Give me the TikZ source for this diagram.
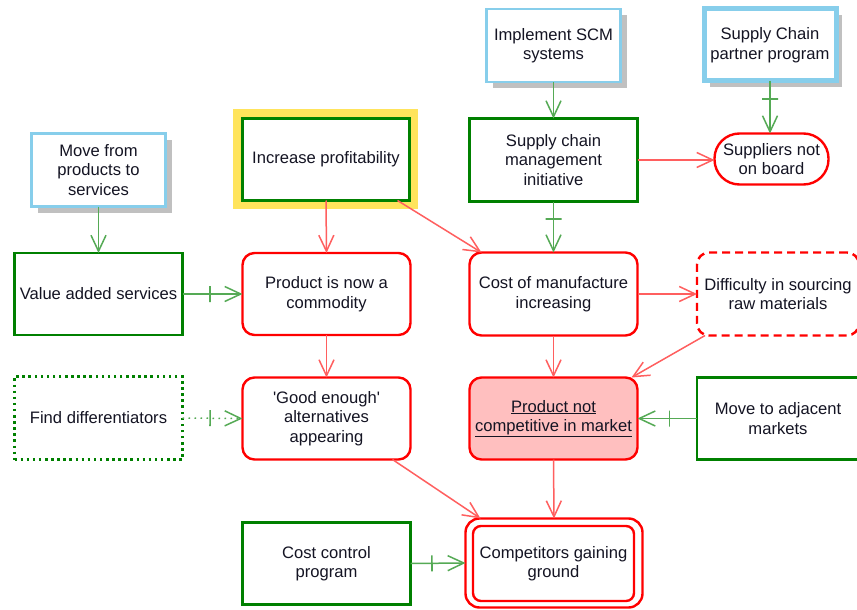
\documentclass[tikz,border=0pt]{standalone}
\usepackage{fontspec}
\setmainfont{Liberation Sans}
\usetikzlibrary{arrows.meta,shadows}
\definecolor{bgreen}{RGB}{0,128,0}
\definecolor{bred}{RGB}{255,0,0}
\definecolor{lblue}{RGB}{135,206,235}
\definecolor{hyellow}{RGB}{255,228,92}
\definecolor{shgray}{RGB}{192,192,192}
\definecolor{cgreen}{RGB}{85,170,85}
\definecolor{cred}{RGB}{255,95,95}
\definecolor{pinkfill}{RGB}{255,191,191}
\definecolor{txt}{RGB}{20,20,35}
\begin{document}
\begin{tikzpicture}[x=1pt,y=-1pt,
  every node/.style={font=\fontsize{16.6}{19.5}\selectfont, text=txt, align=center, inner sep=0pt, outer sep=0pt},
  base/.style={line width=2.4pt, fill=white},
  gbox/.style={base, draw=bgreen, minimum width=168pt, minimum height=82pt},
  rbox/.style={base, draw=bred, rounded corners=12pt, minimum width=168pt, minimum height=82pt},
  bbox/.style={base, draw=lblue, minimum width=134pt, minimum height=73pt,
    drop shadow={shadow xshift=6pt, shadow yshift=-6pt, fill=shgray, opacity=1}},
  garrow/.style={draw=cgreen, line width=1.5pt, -{Straight Barb[length=16pt,width=15pt]}},
  rarrow/.style={draw=cred, line width=1.5pt, -{Straight Barb[length=16pt,width=15pt]}},
  crossbar/.style={sloped, draw=cgreen, solid, line width=1.6pt, minimum width=0pt, minimum height=16pt, inner sep=0pt, fill=none}
]
\useasboundingbox[fill=white] (0,0) rectangle (857,610);

% top row
\node[bbox] (movefrom) at (98.5,170) {Move from\\products to\\services};
\node[fill=hyellow, minimum width=185pt, minimum height=100pt] (hl) at (325.5,159) {};
\node[gbox, minimum width=167pt, minimum height=82pt] (incprof) at (326,159.5) {Increase profitability};
\node[bbox] (implscm) at (553.5,45.5) {Implement SCM\\systems};
\node[bbox, line width=5pt, minimum width=132pt, minimum height=72pt] (partner) at (770,45) {Supply Chain\\partner program};
\node[gbox, minimum height=83pt] (scmi) at (553.5,160) {Supply chain\\management\\initiative};
\node[base, draw=bred, rounded corners=25pt, minimum width=114pt, minimum height=51pt] (suppl) at (771.5,159) {Suppliers not\\on board};

% second row
\node[gbox] (vas) at (98.5,294) {Value added services};
\node[rbox] (commod) at (326.5,294) {Product is now a\\commodity};
\node[rbox, minimum height=83pt] (cost) at (553.5,294) {Cost of manufacture\\increasing};
\node[rbox, minimum width=162pt, minimum height=83pt, dash pattern=on 8pt off 5pt] (diff) at (778,294) {Difficulty in sourcing\\raw materials};

% third row
\node[gbox, minimum height=83pt, dash pattern=on 2.5pt off 3.6pt] (findd) at (98.5,418) {Find differentiators};
\node[rbox] (good) at (326.5,418.5) {\textquotesingle Good enough\textquotesingle\\alternatives\\appearing};
\node[rbox, fill=pinkfill] (notcomp) at (553.5,418.5) {\underline{Product not}\\\underline{competitive in market}};
\node[gbox, minimum width=162pt] (adj) at (778,418.5) {Move to adjacent\\markets};

% bottom row
\node[gbox] (costctl) at (326.5,563.5) {Cost control\\program};
\node[base, draw=bred, rounded corners=14pt, minimum width=177pt, minimum height=89pt] (compout) at (554,563) {};
\node[base, draw=bred, rounded corners=8pt, minimum width=161pt, minimum height=75pt] (comp) at (553.5,563.5) {Competitors gaining\\ground};

% connectors
\draw[garrow] (movefrom.south) -- (vas.north);
\draw[garrow] (vas.east) -- node[pos=0.46, crossbar]{} (commod.west);
\draw[rarrow] (incprof.south) -- (commod.north);
\draw[rarrow] ([xshift=-12pt]incprof.south east) -- ([xshift=12pt]cost.north west);
\draw[garrow] (implscm.south) -- (scmi.north);
\draw[garrow] (partner.south) -- node[pos=0.34, crossbar]{} (partner.south |- suppl.north);
\draw[rarrow] (scmi.east) -- (scmi.east -| suppl.west);
\draw[garrow] (scmi.south) -- node[pos=0.34, crossbar]{} (cost.north);
\draw[rarrow] (commod.south) -- (good.north);
\draw[rarrow] (cost.east) -- (diff.west);
\draw[rarrow] (cost.south) -- (notcomp.north);
\draw[rarrow] ([xshift=8pt]diff.south west) -- ([xshift=-6pt]notcomp.north east);
\draw[garrow] (adj.west) -- node[pos=0.46, crossbar]{} (notcomp.east);
\draw[garrow, dash pattern=on 1.6pt off 4.4pt] (findd.east) -- node[pos=0.46, crossbar]{} (good.west);
\draw[rarrow] ([xshift=-18pt]good.south east) -- ([xshift=15pt]compout.north west);
\draw[rarrow] (notcomp.south) -- (compout.north);
\draw[garrow] (costctl.east) -- node[pos=0.39, crossbar]{} (compout.west);
\end{tikzpicture}
\end{document}
